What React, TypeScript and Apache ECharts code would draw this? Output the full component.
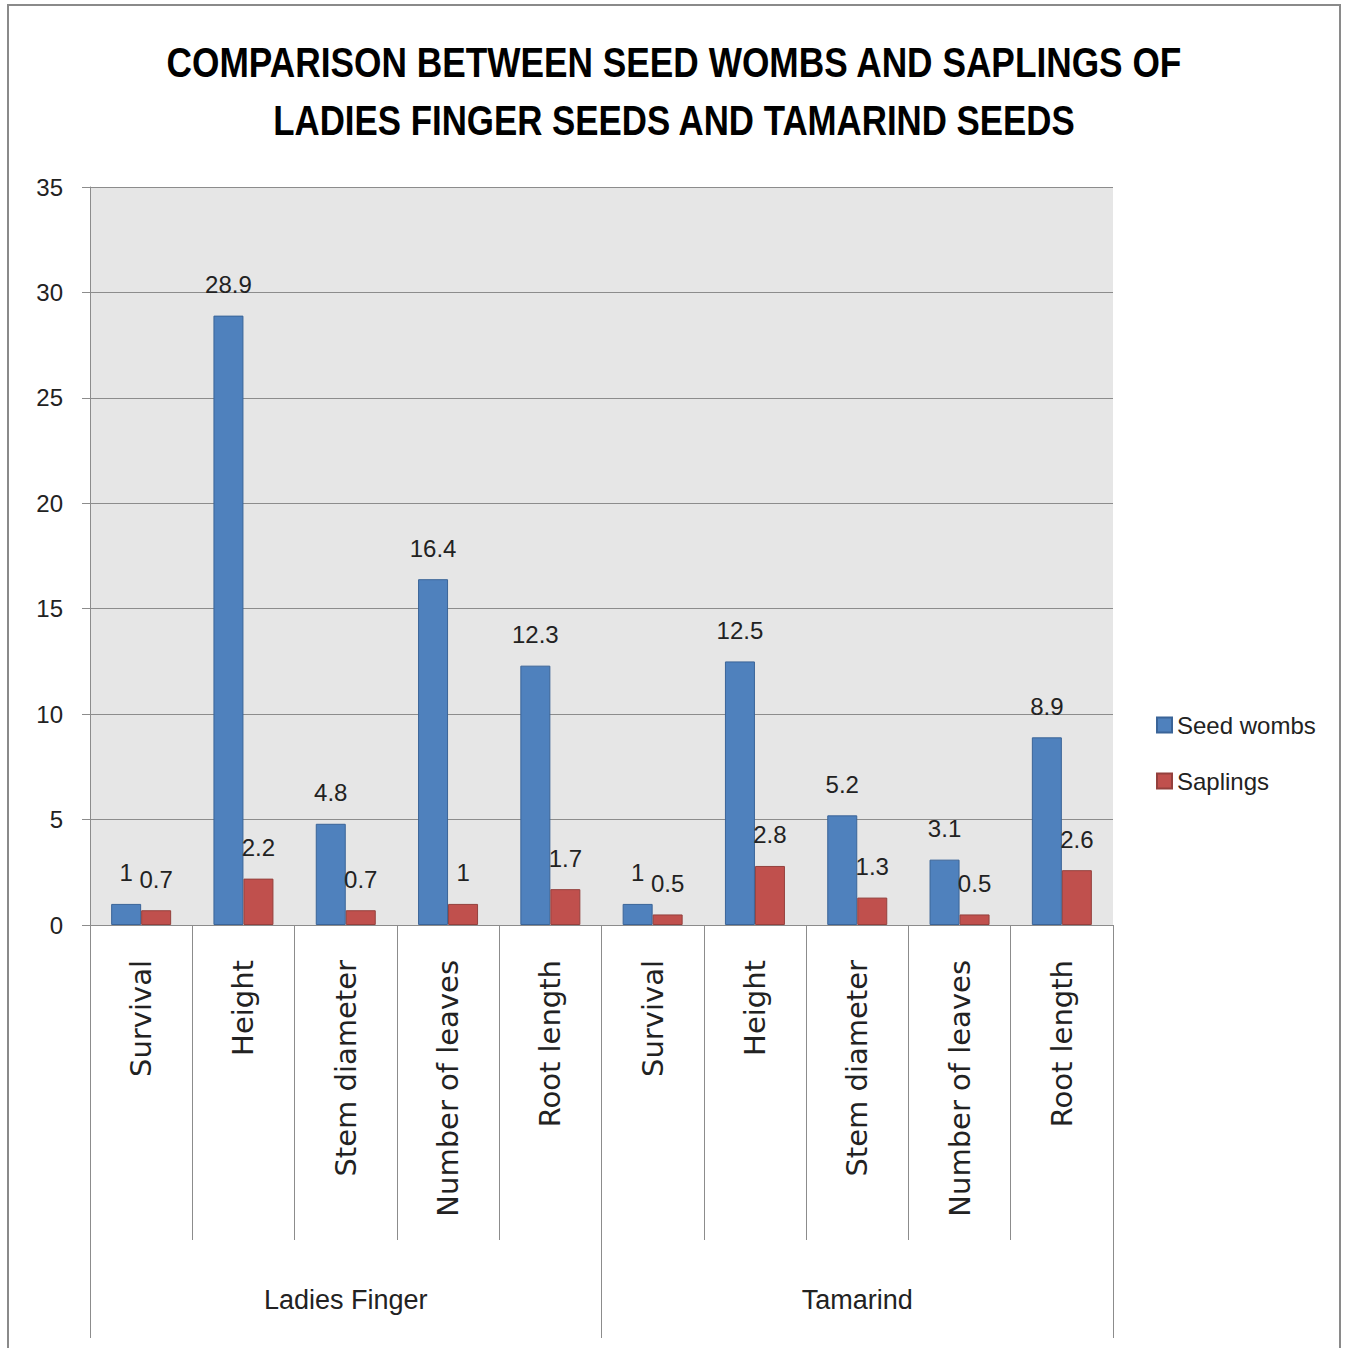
import React, { useEffect, useRef } from "react";
import * as echarts from "echarts";

const categories = [
  "Survival", "Height", "Stem diameter", "Number of leaves", "Root length",
  "Survival", "Height", "Stem diameter", "Number of leaves", "Root length",
];
const groups = ["Ladies Finger", "Tamarind"];
const seedWombs = [1, 28.9, 4.8, 16.4, 12.3, 1, 12.5, 5.2, 3.1, 8.9];
const saplings = [0.7, 2.2, 0.7, 1, 1.7, 0.5, 2.8, 1.3, 0.5, 2.6];
const titleLines = [
  "COMPARISON BETWEEN SEED WOMBS AND SAPLINGS OF",
  "LADIES FINGER SEEDS AND TAMARIND SEEDS",
];

const SANS = "'Liberation Sans', Arial, sans-serif";
const WIDE = "'DejaVu Sans', Verdana, sans-serif";
const GRAY = "#8c8c8c";
const TEXT = "#222";

export default function App() {
  const ref = useRef<HTMLDivElement>(null);
  useEffect(() => {
    if (!ref.current) return;
    const chart = echarts.init(ref.current, undefined, { renderer: "svg" });
    const labelStyle = {
      show: true,
      position: "top" as const,
      distance: 19,
      fontFamily: SANS,
      fontSize: 24,
      color: TEXT,
    };
    chart.setOption({
      animation: false,
      backgroundColor: "#fff",
      graphic: [
        {
          type: "rect",
          shape: { x: 8, y: 5, width: 1332, height: 1400 },
          style: { fill: "none", stroke: "#8a8a8a", lineWidth: 2 },
          silent: true,
          z: -1,
        },
        ...titleLines.map((t, i) => ({
          type: "text",
          x: 674,
          y: 62 + i * 58,
          scaleX: i === 0 ? 0.84 : 0.83,
          silent: true,
          style: {
            text: t,
            fontFamily: SANS,
            fontWeight: "bold",
            fontSize: 42,
            fill: "#000",
            textAlign: "center",
            textVerticalAlign: "middle",
          },
        })),
      ],
      legend: {
        orient: "vertical",
        left: 1156,
        top: 713,
        padding: 0,
        itemWidth: 15,
        itemHeight: 15,
        itemGap: 32,
        icon: "rect",
        textStyle: { fontFamily: SANS, fontSize: 24, color: TEXT, lineHeight: 24 },
        data: ["Seed wombs", "Saplings"],
      },
      grid: {
        left: 90,
        top: 187,
        width: 1023,
        height: 738,
        show: true,
        backgroundColor: "#e6e6e6",
        borderWidth: 0,
      },
      xAxis: [
        {
          type: "category",
          data: categories,
          position: "bottom",
          offset: 0,
          axisLine: { show: true, lineStyle: { color: GRAY, width: 1 } },
          axisTick: {
            show: true,
            interval: 0,
            length: 315,
            lineStyle: { color: GRAY, width: 1 },
          },
          axisLabel: {
            interval: 0,
            rotate: 90,
            margin: 35,
            fontFamily: WIDE,
            fontSize: 29,
            color: TEXT,
          },
        },
        {
          type: "category",
          data: groups,
          position: "bottom",
          offset: 0,
          axisLine: { show: false },
          axisTick: {
            show: true,
            interval: 0,
            length: 413,
            lineStyle: { color: GRAY, width: 1 },
          },
          axisLabel: {
            interval: 0,
            margin: 361,
            fontFamily: SANS,
            fontSize: 27,
            color: TEXT,
          },
        },
      ],
      yAxis: {
        type: "value",
        min: 0,
        max: 35,
        interval: 5,
        axisLine: { show: true, lineStyle: { color: GRAY, width: 1 } },
        axisTick: { show: true, length: 8, lineStyle: { color: GRAY } },
        splitLine: { show: true, lineStyle: { color: GRAY, width: 1 } },
        axisLabel: {
          margin: 27,
          fontFamily: SANS,
          fontSize: 24,
          color: TEXT,
        },
      },
      series: [
        {
          name: "Seed wombs",
          type: "bar",
          xAxisIndex: 0,
          data: seedWombs,
          barWidth: 30,
          barGap: "0%",
          itemStyle: { color: "#4f81bd", borderColor: "#3a6498", borderWidth: 1 },
          label: labelStyle,
        },
        {
          name: "Saplings",
          type: "bar",
          xAxisIndex: 0,
          data: saplings,
          barWidth: 30,
          barGap: "0%",
          itemStyle: { color: "#c0504d", borderColor: "#94403d", borderWidth: 1 },
          label: labelStyle,
        },
      ],
    });
    return () => chart.dispose();
  }, []);
  return (
    <div
      ref={ref}
      style={{ position: "fixed", left: 0, top: 0, width: 1346, height: 1348 }}
    />
  );
}
